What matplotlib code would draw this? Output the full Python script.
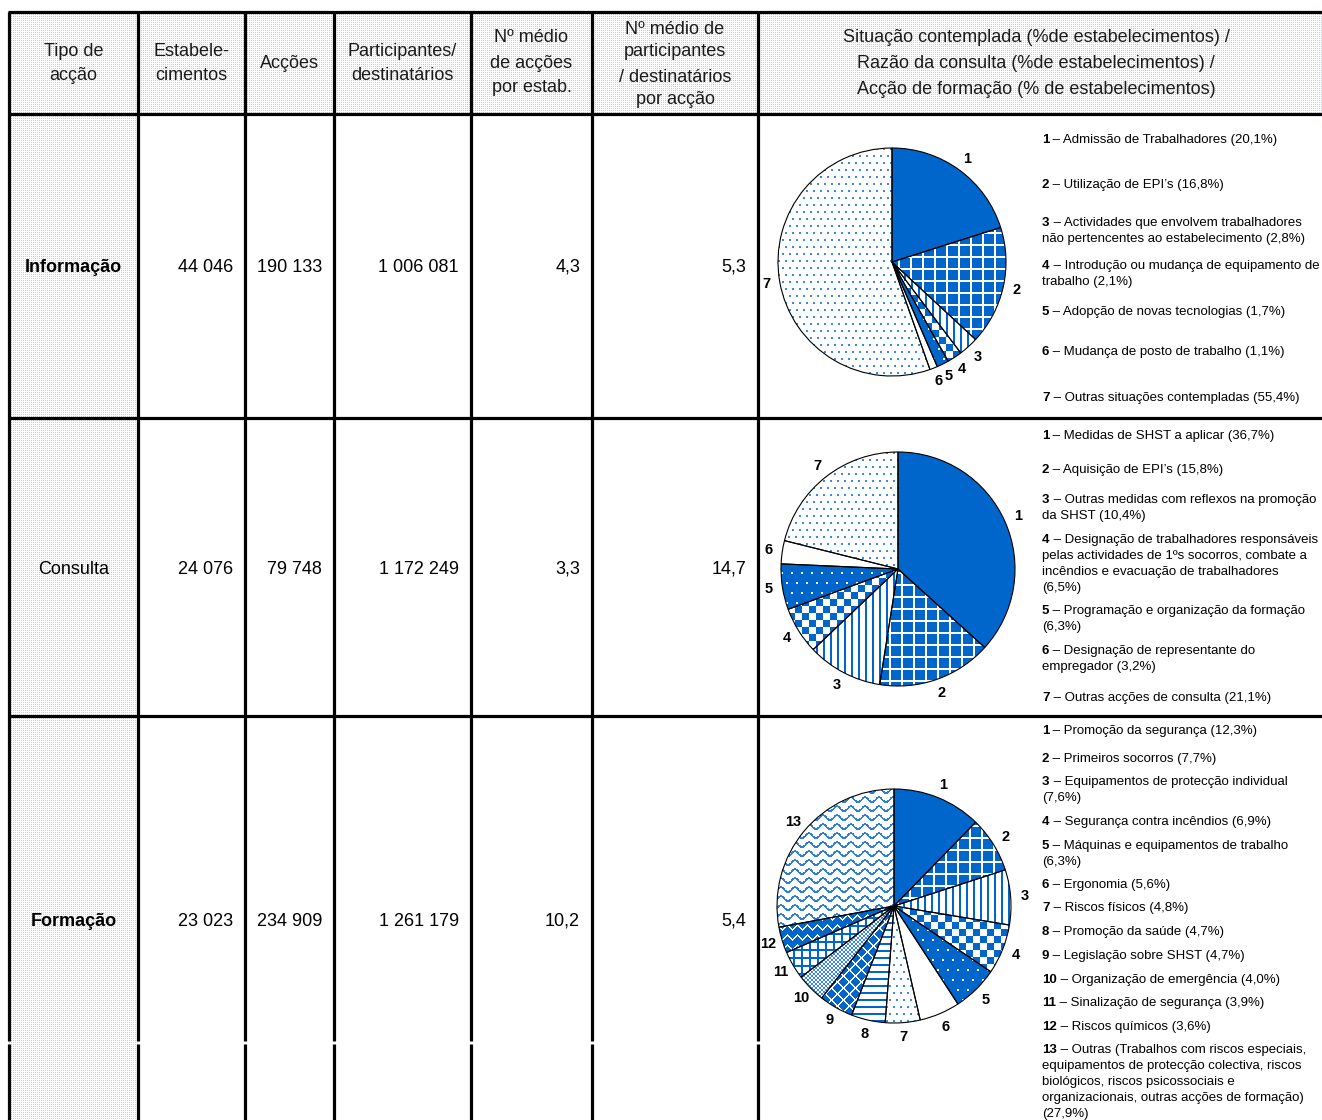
import numpy as np
import matplotlib
matplotlib.use('Agg')
import matplotlib.pyplot as plt
import matplotlib.patches as mpatches
from matplotlib.colors import to_rgb

plt.rcParams['font.family'] = ['Liberation Sans', 'DejaVu Sans']

W, H = 1322, 1120
BLUE = '#0066cc'

# ---- table data ----
header_lines = [
    ["Tipo de", "acção"],
    ["Estabele-", "cimentos"],
    ["Acções"],
    ["Participantes/", "destinatários"],
    ["Nº médio", "de acções", "por estab."],
    ["Nº médio de", "participantes", "/ destinatários", "por acção"],
    ["Situação contemplada (%de estabelecimentos) /",
     "Razão da consulta (%de estabelecimentos) /",
     "Acção de formação (% de estabelecimentos)"],
]
tipos = ["Informação", "Consulta", "Formação"]
tipos_bold = [True, False, True]
estabelecimentos = ["44 046", "24 076", "23 023"]
accoes = ["190 133", "79 748", "234 909"]
participantes = ["1 006 081", "1 172 249", "1 261 179"]
media_accoes = ["4,3", "3,3", "10,2"]
media_participantes = ["5,3", "14,7", "5,4"]

# ---- pie data ----
info_labels = ["Admissão de Trabalhadores",
               "Utilização de EPI’s",
               "Actividades que envolvem trabalhadores\nnão pertencentes ao estabelecimento",
               "Introdução ou mudança de equipamento de\ntrabalho",
               "Adopção de novas tecnologias",
               "Mudança de posto de trabalho",
               "Outras situações contempladas"]
info_values = [20.1, 16.8, 2.8, 2.1, 1.7, 1.1, 55.4]

cons_labels = ["Medidas de SHST a aplicar",
               "Aquisição de EPI’s",
               "Outras medidas com reflexos na promoção\nda SHST",
               "Designação de trabalhadores responsáveis\npelas actividades de 1ºs socorros, combate a\n"
               "incêndios e evacuação de trabalhadores\n",
               "Programação e organização da formação\n",
               "Designação de representante do\nempregador",
               "Outras acções de consulta"]
cons_values = [36.7, 15.8, 10.4, 6.5, 6.3, 3.2, 21.1]

form_labels = ["Promoção da segurança",
               "Primeiros socorros",
               "Equipamentos de protecção individual\n",
               "Segurança contra incêndios",
               "Máquinas e equipamentos de trabalho\n",
               "Ergonomia",
               "Riscos físicos",
               "Promoção da saúde",
               "Legislação sobre SHST",
               "Organização de emergência",
               "Sinalização de segurança",
               "Riscos químicos",
               "Outras (Trabalhos com riscos especiais,\nequipamentos de protecção colectiva, riscos\n"
               "biológicos, riscos psicossociais e\norganizacionais, outras acções de formação)\n"]
form_values = [12.3, 7.7, 7.6, 6.9, 6.3, 5.6, 4.8, 4.7, 4.7, 4.0, 3.9, 3.6, 27.9]

# ---- layout ----
col_x = [9, 138, 245, 334, 471, 592, 758]
row_y = [12, 114, 418, 716]
row_centers = [267, 569, 921]
header_y = [[52, 75], [52, 76], [63], [52, 75], [37, 63, 88], [29, 52, 77, 100], [37, 63, 90]]
header_cx = [73.5, 191.5, 289.5, 402.5, 531.5, 675, 1036]

pies = [
    dict(values=info_values, labels=info_labels, cx=892, cy=262, r=114,
         legend_y=[140, 185, 223, 266, 312, 352, 398],
         patterns=['solid', 'grid', 'vstripe', 'checker', 'bluedots', 'white', 'dots']),
    dict(values=cons_values, labels=cons_labels, cx=898, cy=569, r=117,
         legend_y=[436, 470, 500, 540, 611, 651, 698],
         patterns=['solid', 'grid', 'vstripe', 'checker', 'bluedots', 'white', 'dots']),
    dict(values=form_values, labels=form_labels, cx=894, cy=906, r=117,
         legend_y=[731, 759, 782, 822, 846, 885, 908, 932, 956, 980, 1003, 1027, 1050],
         patterns=['solid', 'grid', 'vstripe', 'checker', 'bluedots', 'white', 'dots',
                   'hstripe', 'diaggrid', 'fine', 'bluegrid', 'weave', 'wave']),
]


def texture(kind, n):
    i, j = np.mgrid[0:n, 0:n]
    color = np.array(to_rgb(BLUE))
    if kind == 'solid':
        mask = np.ones((n, n), bool)
    elif kind == 'grid':
        mask = ~((i % 12 < 2) | (j % 12 < 2))
    elif kind == 'vstripe':
        mask = j % 7 < 2
    elif kind == 'checker':
        mask = ((i // 7) + (j // 7)) % 2 == 0
    elif kind == 'bluedots':
        mask = ~((i % 10 < 2) & ((j + 5 * ((i // 10) % 2)) % 10 < 2))
    elif kind == 'dots':
        mask = (i % 7 < 2) & ((j + 3 * ((i // 7) % 2)) % 7 < 2)
        color = np.array(to_rgb('#3d8ae0'))
    elif kind == 'hstripe':
        mask = i % 7 < 2
    elif kind == 'diaggrid':
        mask = ~(((i + j) % 12 < 2) | ((i - j) % 12 < 2))
    elif kind == 'fine':
        mask = ((i // 2) + (j // 2)) % 2 == 0
        color = np.array(to_rgb('#3d8ae0'))
    elif kind == 'bluegrid':
        mask = (i % 8 < 2) | (j % 8 < 2)
    elif kind == 'weave':
        tri = np.abs((j % 10) - 5)
        mask = ~((i + tri) % 10 < 2)
    elif kind == 'wave':
        mask = (i + 2.5 * np.sin(2 * np.pi * j / 14)) % 9 < 2.2
        color = np.array(to_rgb('#2f7fd8'))
    else:
        mask = np.zeros((n, n), bool)
    img = np.ones((n, n, 3))
    img[mask] = color
    return img


def shade_texture(h, w):
    i, j = np.mgrid[0:h, 0:w]
    img = np.ones((h, w, 3))
    img[(i % 2 == 0) & (j % 2 == 0)] = to_rgb('#c3cfdf')
    return img


fig = plt.figure(figsize=(W / 100, H / 100), dpi=100)
ax = fig.add_axes([0, 0, 1, 1])

# shaded header row and first column
for x0, y0, x1, y1 in [(col_x[0], row_y[0], W, row_y[1]), (col_x[0], row_y[1], col_x[1], H)]:
    rect = mpatches.Rectangle((x0, y0), x1 - x0, y1 - y0, facecolor='none', edgecolor='none')
    ax.add_patch(rect)
    im = ax.imshow(shade_texture(int(y1 - y0), int(x1 - x0)), extent=(x0, x1, y1, y0),
                   interpolation='nearest', zorder=0)
    im.set_clip_path(rect)
ax.set_xlim(0, W)
ax.set_ylim(H, 0)
ax.set_aspect('auto')
ax.axis('off')

# grid lines
lw = 2.3
for y in row_y:
    ax.plot([col_x[0] - 1.5, W], [y, y], color='black', lw=lw, solid_capstyle='butt', zorder=3)
for x in col_x:
    ax.plot([x, x], [row_y[0], 1041], color='black', lw=lw, solid_capstyle='butt', zorder=3)
    ax.plot([x, x], [1044, H], color='black', lw=lw, solid_capstyle='butt', zorder=3)

# header texts
for lines, ys, cx in zip(header_lines, header_y, header_cx):
    for line, y in zip(lines, ys):
        ax.text(cx, y, line, ha='center', va='center', fontsize=13, color='#1a1a1a')

# body texts
cols = [estabelecimentos, accoes, participantes, media_accoes, media_participantes]
for k, yc in enumerate(row_centers):
    ax.text((col_x[0] + col_x[1]) / 2, yc, tipos[k], ha='center', va='center', fontsize=13,
            fontweight='bold' if tipos_bold[k] else 'normal')
    for vals, xr in zip(cols, col_x[2:]):
        ax.text(xr - 12, yc, vals[k], ha='right', va='center', fontsize=13)

# pies and legends
S = 330
for p in pies:
    r = p['r']
    pax = fig.add_axes([(p['cx'] - S / 2) / W, 1 - (p['cy'] + S / 2) / H, S / W, S / H])
    lim = (S / 2) / r
    nums = [str(k + 1) for k in range(len(p['values']))]
    wedges, texts = pax.pie(p['values'], labels=nums, startangle=90, counterclock=False,
                            labeldistance=1.12, radius=1,
                            wedgeprops=dict(linewidth=0, facecolor='white'),
                            textprops=dict(fontsize=10.5, fontweight='bold'))
    n = int(round(2 * r))
    for w, kind in zip(wedges, p['patterns']):
        im = pax.imshow(texture(kind, n), extent=(-1, 1, -1, 1), interpolation='nearest', zorder=2)
        im.set_clip_path(w)
        pax.add_patch(mpatches.Wedge(w.center, w.r, w.theta1, w.theta2, fill=False,
                                     edgecolor='black', linewidth=0.8, zorder=3))
    for t in texts:
        t.set_ha('center')
        t.set_va('center')
    pax.set_xlim(-lim, lim)
    pax.set_ylim(-lim, lim)
    pax.set_aspect('equal')
    pax.axis('off')

    for k, (label, val, y) in enumerate(zip(p['labels'], p['values'], p['legend_y'])):
        pct = ('(%.1f%%)' % val).replace('.', ',')
        full = label + ('' if label.endswith('\n') else ' ') + pct
        lines = full.split('\n')
        num = ax.text(1042, y, str(k + 1), ha='left', va='center', fontsize=9.5,
                      fontweight='bold', zorder=4)
        ax.annotate(' – ' + lines[0], xy=(1, 0.5), xycoords=num, ha='left', va='center',
                    fontsize=9.5, zorder=4)
        for m, line in enumerate(lines[1:]):
            ax.text(1042, y + 16 * (m + 1), line, ha='left', va='center', fontsize=9.5, zorder=4)

fig.savefig('out.png', dpi=100)
